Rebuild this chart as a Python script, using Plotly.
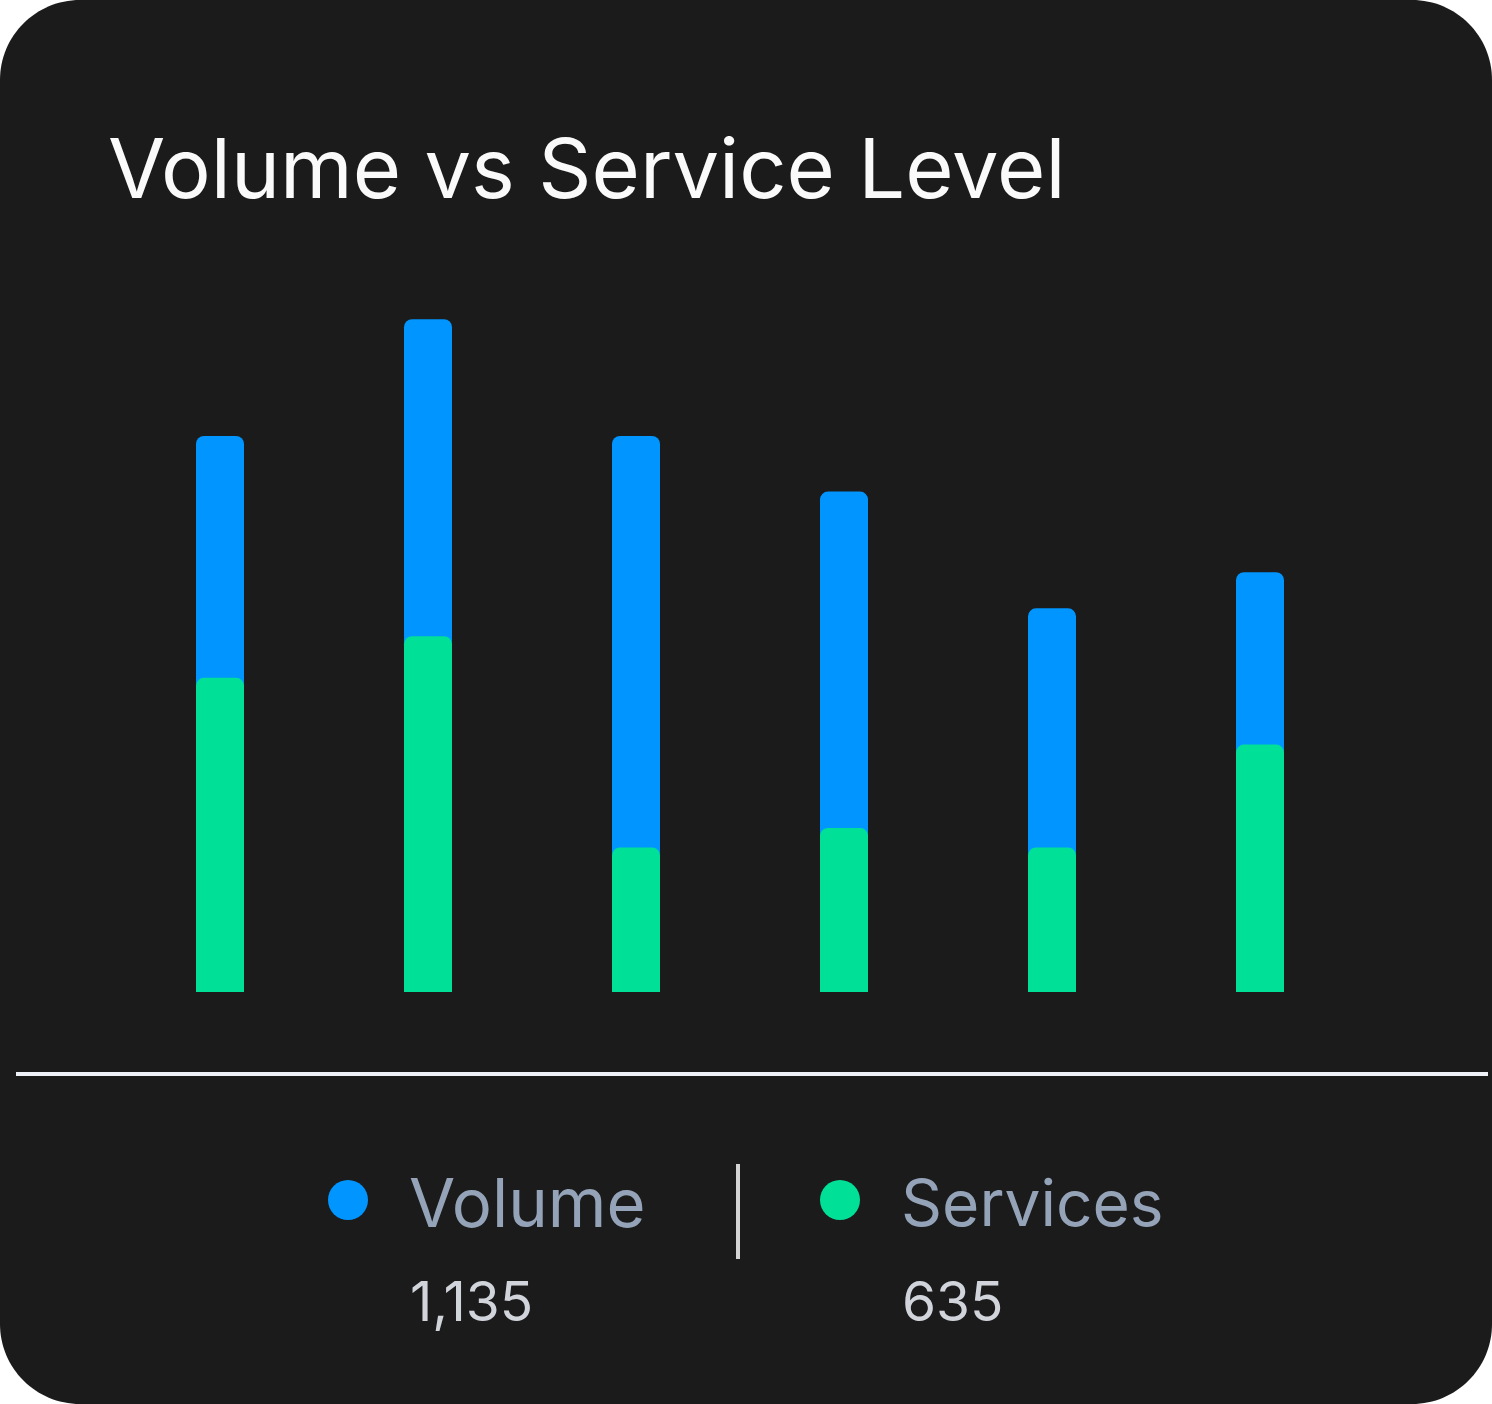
import plotly.graph_objects as go

categories = ["Jan", "Feb", "Mar", "Apr", "May", "Jun"]
volume = [200, 242, 200, 180, 138, 151]
services = [113, 128, 52, 59, 52, 89]
legend_labels = ["Volume", "Services"]
legend_totals = ["1,135", "635"]
title_text = "Volume vs Service Level"

W, H = 1492, 1404
BG = "#1b1b1b"
BLUE = "#0095FF"
GREEN = "#00E096"
FONT = "Inter"


def px(x):
    return x / W


def py(y):
    return 1 - y / H


def P(x, y):
    return f"{px(x):.6f},{py(y):.6f}"


fig = go.Figure()
fig.add_bar(x=categories, y=volume, name=legend_labels[0], xaxis="x", yaxis="y",
            marker=dict(color=BLUE, line=dict(width=0), cornerradius=8),
            hoverinfo="skip")
fig.add_bar(x=categories, y=services, name=legend_labels[1], xaxis="x2", yaxis="y",
            marker=dict(color=GREEN, line=dict(width=0), cornerradius=8),
            hoverinfo="skip")

# card background (rounded rectangle)
r = 80
k = 0.5523 * r
card = (f"M {P(r,0)} L {P(W-r,0)} C {P(W-r+k,0)} {P(W,r-k)} {P(W,r)} "
        f"L {P(W,H-r)} C {P(W,H-r+k)} {P(W-r+k,H)} {P(W-r,H)} "
        f"L {P(r,H)} C {P(r-k,H)} {P(0,H-r+k)} {P(0,H-r)} "
        f"L {P(0,r)} C {P(0,r-k)} {P(r-k,0)} {P(r,0)} Z")
shapes = [
    dict(type="path", path=card, xref="paper", yref="paper", fillcolor=BG,
         line=dict(width=0), layer="below"),
    dict(type="line", xref="paper", yref="paper", x0=px(16), x1=px(1488),
         y0=py(1074), y1=py(1074), line=dict(color="#eef2f7", width=4)),
    dict(type="line", xref="paper", yref="paper", x0=px(738), x1=px(738),
         y0=py(1164), y1=py(1259), line=dict(color="#d4d4d4", width=4)),
]
dot_r = 20
for cx, col in [(348, BLUE), (840, GREEN)]:
    shapes.append(dict(type="circle", xref="paper", yref="paper",
                       x0=px(cx - dot_r), x1=px(cx + dot_r),
                       y0=py(1200 + dot_r), y1=py(1200 - dot_r),
                       fillcolor=col, line=dict(width=0)))

annotations = [
    dict(text=title_text, x=px(106), y=py(168), xref="paper", yref="paper",
         xanchor="left", yanchor="middle", showarrow=False,
         font=dict(family=FONT, size=83, color="#fafafa")),
]
for lx, lab, tot, lsize in [(407, legend_labels[0], legend_totals[0], 67),
                            (899, legend_labels[1], legend_totals[1], 64)]:
    annotations.append(dict(text=lab, x=px(lx), y=py(1202), xref="paper", yref="paper",
                            xanchor="left", yanchor="middle", showarrow=False,
                            font=dict(family=FONT, size=lsize, color="#94A3B8")))
    annotations.append(dict(text=tot, x=px(lx + 1), y=py(1301), xref="paper", yref="paper",
                            xanchor="left", yanchor="middle", showarrow=False,
                            font=dict(family=FONT, size=55, color="#d1d5db")))

xdom = [px(116), px(1364)]
fig.update_layout(
    width=W, height=H,
    margin=dict(l=0, r=0, t=0, b=0, pad=0),
    paper_bgcolor="white",
    plot_bgcolor="rgba(0,0,0,0)",
    barmode="group",
    bargap=1 - 48 / 208,
    showlegend=False,
    shapes=shapes,
    annotations=annotations,
    xaxis=dict(domain=xdom, range=[-0.5, 5.5], visible=False, fixedrange=True),
    xaxis2=dict(domain=xdom, range=[-0.5, 5.5], visible=False, fixedrange=True,
                overlaying="x", anchor="y"),
    yaxis=dict(domain=[py(992), py(297)], range=[0, 250], visible=False,
               fixedrange=True),
)

fig.write_html("out.html", config={"displayModeBar": False},
               post_script="document.body.style.margin='0';document.body.style.overflow='hidden';")
